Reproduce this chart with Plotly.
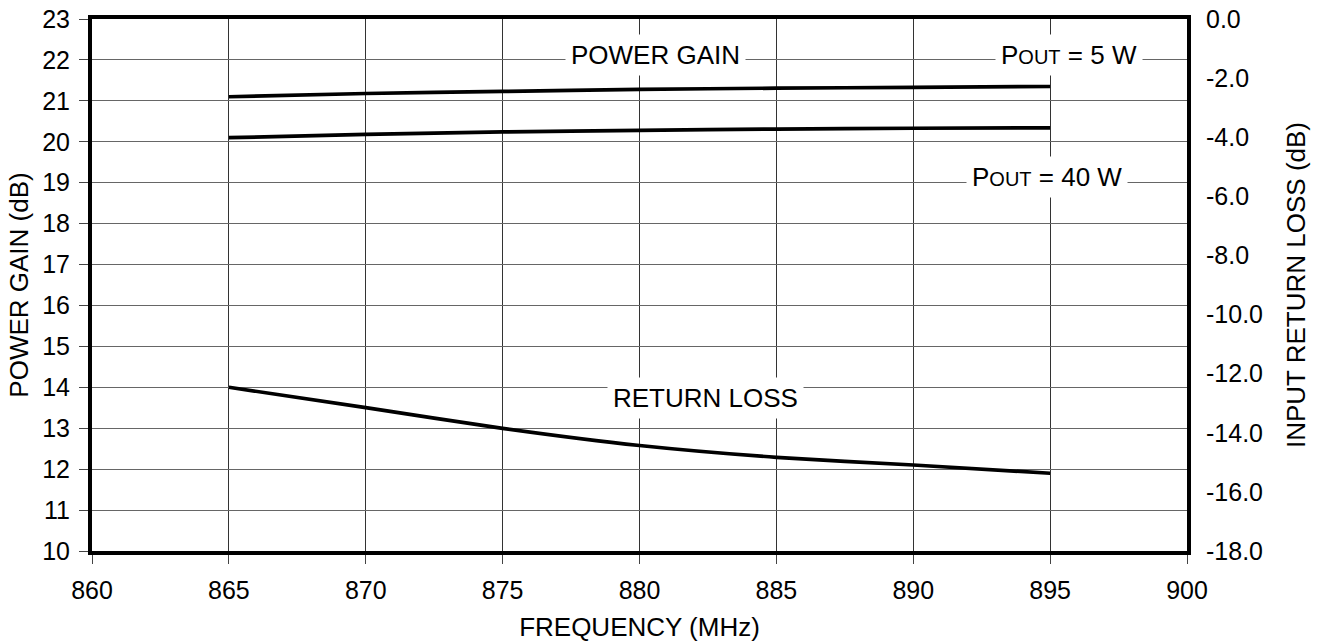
import plotly.graph_objects as go

freq = [865, 870, 875, 880, 885, 890, 895]
gain_5w = [21.10, 21.18, 21.23, 21.28, 21.31, 21.33, 21.35]
gain_40w = [20.10, 20.18, 20.24, 20.28, 20.31, 20.33, 20.34]
return_loss = [-12.46, -13.15, -13.85, -14.43, -14.83, -15.09, -15.37]

x_ticks = [860, 865, 870, 875, 880, 885, 890, 895, 900]
y_ticks = list(range(10, 24))
y2_ticks = [0, -2, -4, -6, -8, -10, -12, -14, -16, -18]

FONT = "Liberation Sans, Arial, sans-serif"
TICK_FS = 25
TITLE_FS = 26
ANN_FS = 26

fig = go.Figure()
line_style = dict(color="black", width=3.7, shape="spline", smoothing=0.6)
fig.add_trace(go.Scatter(x=freq, y=gain_5w, mode="lines", line=line_style, yaxis="y"))
fig.add_trace(go.Scatter(x=freq, y=gain_40w, mode="lines", line=line_style, yaxis="y"))
fig.add_trace(go.Scatter(x=freq, y=return_loss, mode="lines", line=line_style, yaxis="y2"))

small = 'font-size:20px'
ann_common = dict(showarrow=False, bgcolor="white", font=dict(family=FONT, size=ANN_FS, color="black"),
                  xref="x", yref="y", borderpad=5)
tickfont = dict(family=FONT, size=TICK_FS, color="black")
titlefont = dict(family=FONT, size=TITLE_FS, color="black")

fig.update_layout(
    width=1321, height=644,
    margin=dict(l=92, r=134, t=19, b=93),
    paper_bgcolor="white", plot_bgcolor="white",
    showlegend=False,
    font=dict(family=FONT, size=TICK_FS, color="black"),
    xaxis=dict(range=[860, 900], tickvals=x_ticks, ticktext=[str(v) for v in x_ticks],
               showgrid=True, gridcolor="#333", gridwidth=1,
               showline=True, linecolor="black", linewidth=4, mirror=True,
               ticks="outside", ticklen=9, tickcolor="#444", zeroline=False,
               tickfont=tickfont, automargin=False, ticklabelstandoff=5,
               title=dict(text="FREQUENCY (MHz)", standoff=16, font=titlefont)),
    yaxis=dict(range=[10, 23], tickvals=y_ticks, ticktext=[str(v) for v in y_ticks],
               showgrid=True, gridcolor="#666", gridwidth=1,
               showline=True, linecolor="black", linewidth=4, mirror=True,
               ticks="outside", ticklen=9, tickcolor="#444", zeroline=False,
               tickfont=tickfont, automargin=False, ticklabelstandoff=4,
               title=dict(text="POWER GAIN (dB)", standoff=7, font=titlefont)),
    yaxis2=dict(range=[-18, 0], overlaying="y", side="right", tickvals=y2_ticks,
                ticktext=[f"{v:.1f}" for v in y2_ticks],
                showgrid=False, showline=False, zeroline=False, ticks="",
                tickfont=tickfont, automargin=False, ticklabelstandoff=18,
                title=dict(text="INPUT RETURN LOSS (dB)", standoff=24, font=titlefont)),
    annotations=[
        dict(x=880.6, y=22.12, text="POWER GAIN", **ann_common),
        dict(x=895.7, y=22.12, text=f'P<span style="{small}">OUT</span> = 5 W', **ann_common),
        dict(x=894.9, y=19.15, text=f'P<span style="{small}">OUT</span> = 40 W', **ann_common),
        dict(x=882.4, y=13.74, text="RETURN LOSS", **ann_common),
    ],
)

fig.write_html("out.html", config={"displayModeBar": False},
               post_script="document.body.style.margin='0';document.body.style.overflow='hidden';")
